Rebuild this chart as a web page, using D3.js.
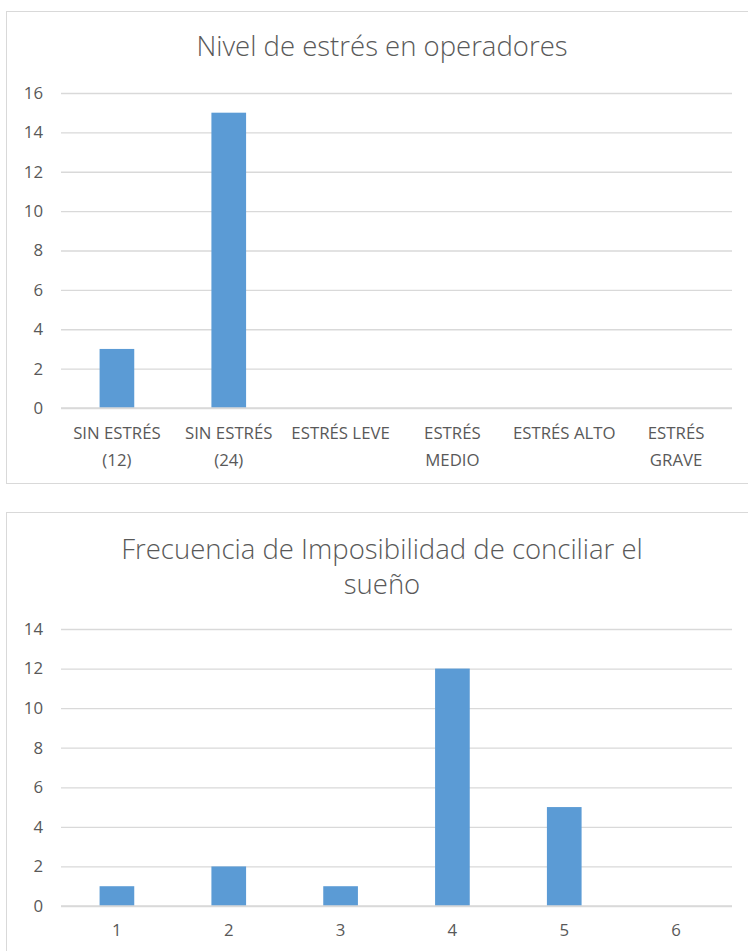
<!DOCTYPE html>
<html>
<head>
<meta charset="utf-8">
<script src="https://cdn.jsdelivr.net/npm/d3@7"></script>
<style>
  html, body { margin: 0; padding: 0; background: #fff; }
  svg { display: block; }
  text { font-family: "Open Sans", "Noto Sans", sans-serif; fill: #595959; }
</style>
</head>
<body>
<svg id="chart" width="748" height="951"></svg>
<script>
// Chart 1: stress level among operators
const stressCategories = [["SIN ESTRÉS", "(12)"], ["SIN ESTRÉS", "(24)"], ["ESTRÉS LEVE"], ["ESTRÉS", "MEDIO"], ["ESTRÉS ALTO"], ["ESTRÉS", "GRAVE"]];
const stressValues = [3, 15, 0, 0, 0, 0];
const stressTicks = [0, 2, 4, 6, 8, 10, 12, 14, 16];

// Chart 2: frequency of being unable to fall asleep
const sleepCategories = [["1"], ["2"], ["3"], ["4"], ["5"], ["6"]];
const sleepValues = [1, 2, 1, 12, 5, 0];
const sleepTicks = [0, 2, 4, 6, 8, 10, 12, 14];

const svg = d3.select("#chart");
const barColor = "#5b9bd5";
const gridColor = "#d9d9d9";
const labelSize = 16.8;

function drawChart(cfg) {
  const g = svg.append("g");
  // outer frame
  g.append("rect")
    .attr("x", cfg.box[0] + 0.5).attr("y", cfg.box[1] + 0.5)
    .attr("width", cfg.box[2]).attr("height", cfg.box[3])
    .attr("fill", "#fff").attr("stroke", gridColor).attr("stroke-width", 1);

  // title
  cfg.title.forEach((line, i) => {
    g.append("text")
      .attr("x", cfg.titleX).attr("y", cfg.titleY + i * cfg.titleLead)
      .attr("text-anchor", "middle")
      .attr("font-size", cfg.titleSize)
      .attr("font-weight", 300)
      .text(line);
  });

  const x = d3.scaleBand()
    .domain(d3.range(cfg.categories.length))
    .range([cfg.left, cfg.right])
    .paddingInner(0.69)
    .paddingOuter(0.345);

  const y = d3.scaleLinear()
    .domain([0, d3.max(cfg.ticks)])
    .range([cfg.bottom, cfg.top]);

  // horizontal gridlines + y labels
  const yAxis = d3.axisLeft(y).tickValues(cfg.ticks).tickSize(-(cfg.right - cfg.left)).tickPadding(18);
  const ya = g.append("g").attr("transform", `translate(${cfg.left},0)`).call(yAxis);
  ya.select(".domain").remove();
  ya.selectAll(".tick line").attr("stroke", gridColor).attr("stroke-width", 1.3);
  ya.selectAll(".tick text")
    .attr("font-size", labelSize).attr("fill", "#595959")
    .style("font-family", '"Open Sans", "Noto Sans", sans-serif');

  // bars
  g.selectAll("rect.bar")
    .data(cfg.values)
    .enter().append("rect")
    .attr("class", "bar")
    .attr("x", (d, i) => x(i))
    .attr("width", x.bandwidth())
    .attr("y", d => y(d))
    .attr("height", d => cfg.bottom - y(d))
    .attr("fill", barColor);

  // baseline axis line
  g.append("line")
    .attr("x1", cfg.left).attr("x2", cfg.right)
    .attr("y1", cfg.bottom).attr("y2", cfg.bottom)
    .attr("stroke", gridColor).attr("stroke-width", 1.3);

  // category labels
  cfg.categories.forEach((lines, i) => {
    lines.forEach((line, j) => {
      g.append("text")
        .attr("x", x(i) + x.bandwidth() / 2)
        .attr("y", cfg.labelY + j * 27)
        .attr("text-anchor", "middle")
        .attr("font-size", labelSize)
        .text(line);
    });
  });
}

drawChart({
  box: [6, 11, 742, 472],
  title: ["Nivel de estrés en operadores"],
  titleX: 382, titleY: 56, titleLead: 0, titleSize: 27.5,
  categories: stressCategories, values: stressValues, ticks: stressTicks,
  left: 61, right: 732, top: 93, bottom: 408,
  labelY: 439
});

drawChart({
  box: [6, 512, 742, 460],
  title: ["Frecuencia de Imposibilidad de conciliar el", "sueño"],
  titleX: 382, titleY: 559, titleLead: 35, titleSize: 27.5,
  categories: sleepCategories, values: sleepValues, ticks: sleepTicks,
  left: 61, right: 732, top: 629, bottom: 906,
  labelY: 936
});
</script>
</body>
</html>
